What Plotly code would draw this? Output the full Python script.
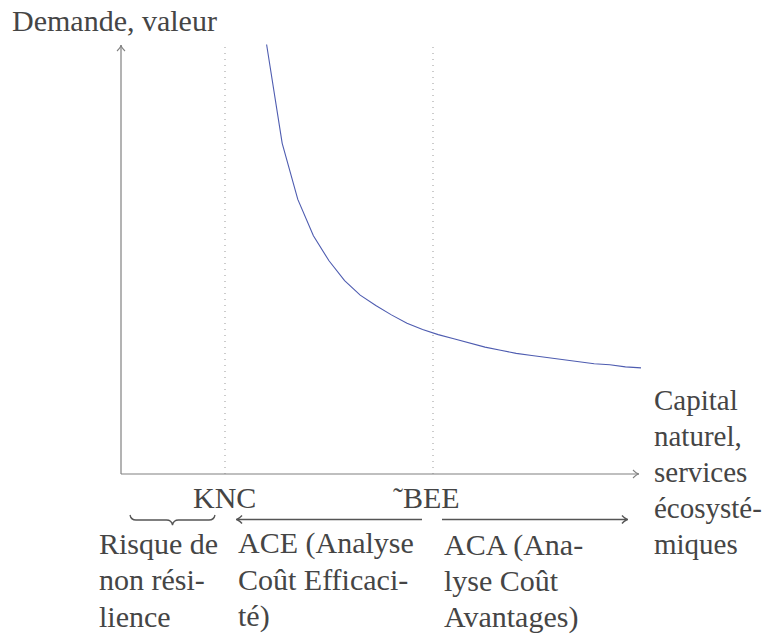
import plotly.graph_objects as go

# ---- data (diagram units: KNC at 1, BEE at 3) ----
curve_x = [1.40, 1.55, 1.70, 1.85, 2.00, 2.15, 2.30, 2.45, 2.60, 2.75, 2.90, 3.05, 3.20,
           3.35, 3.50, 3.65, 3.80, 3.95, 4.10, 4.25, 4.40, 4.55, 4.70, 4.85, 5.00]
curve_y = [4.13, 3.18, 2.64, 2.29, 2.05, 1.86, 1.72, 1.62, 1.53, 1.45, 1.39, 1.34, 1.30,
           1.26, 1.22, 1.19, 1.16, 1.14, 1.12, 1.10, 1.08, 1.06, 1.05, 1.03, 1.02]
markers_x = [1.0, 3.0]          # KNC, BEE
marker_labels = ["KNC", "˜BEE"]
y_label = "Demande, valeur"
x_label_lines = ["Capital", "naturel,", "services", "écosysté-", "miques"]
risque_lines = ["Risque de", "non rési-", "lience"]
ace_lines = ["ACE (Analyse", "Coût Efficaci-", "té)"]
aca_lines = ["ACA (Ana-", "lyse Coût", "Avantages)"]

W, H = 771, 641
OX, OY, U = 121, 474, 104.0     # origin (pixels) and pixels per unit


def X(px):
    return (px - OX) / U


def Y(py):
    return (OY - py) / U


FONT = dict(family="Liberation Serif, serif", size=30, color="#454545")
FONT_R = dict(FONT, size=29)
AXC = "#808080"

fig = go.Figure()
fig.add_trace(go.Scatter(x=curve_x, y=curve_y, mode="lines",
                         line=dict(color="#4e5cb0", width=1.1),
                         hoverinfo="skip", showlegend=False))

shapes = []
for mx in markers_x:
    shapes.append(dict(type="line", xref="x", yref="y", x0=mx, x1=mx, y0=0, y1=Y(46),
                       line=dict(color="#999999", width=1, dash="1px,5px")))
shapes.append(dict(type="line", xref="x", yref="y", x0=0, x1=X(639), y0=0, y1=0,
                   line=dict(color=AXC, width=1.2)))
shapes.append(dict(type="line", xref="x", yref="y", x0=0, x1=0, y0=0, y1=Y(45),
                   line=dict(color=AXC, width=1.2)))


def chevron(tx, ty, dx, dy, color, width):
    L, Wd = 6, 4
    bx, by = tx - dx * L, ty - dy * L
    nx, ny = -dy, dx
    p1 = (bx + nx * Wd, by + ny * Wd)
    p2 = (bx - nx * Wd, by - ny * Wd)
    path = "M {},{} Q {},{} {},{} Q {},{} {},{}".format(
        X(p1[0]), Y(p1[1]), X(tx - dx * 2), Y(ty - dy * 2), X(tx), Y(ty),
        X(tx - dx * 2), Y(ty - dy * 2), X(p2[0]), Y(p2[1]))
    return dict(type="path", xref="x", yref="y", path=path,
                line=dict(color=color, width=width))


shapes.append(chevron(639, OY, 1, 0, AXC, 1.1))
shapes.append(chevron(OX, 45, 0, -1, AXC, 1.1))

AC = "#555555"
ay = 519.5
shapes.append(dict(type="line", xref="x", yref="y", x0=X(237), x1=X(422), y0=Y(ay), y1=Y(ay),
                   line=dict(color=AC, width=1.6)))
shapes.append(chevron(236, ay, -1, 0, AC, 1.5))
shapes.append(dict(type="line", xref="x", yref="y", x0=X(442), x1=X(627), y0=Y(ay), y1=Y(ay),
                   line=dict(color=AC, width=1.6)))
shapes.append(chevron(628, ay, 1, 0, AC, 1.5))

bx0, bx1, bt, bm, bb = 130, 215, 515, 520, 525
mid = (bx0 + bx1) / 2
bp = ("M {},{} Q {},{} {},{} L {},{} Q {},{} {},{} Q {},{} {},{} L {},{} Q {},{} {},{}").format(
    X(bx0), Y(bt), X(bx0 + 1), Y(bm), X(bx0 + 6), Y(bm),
    X(mid - 6), Y(bm), X(mid - 1), Y(bm), X(mid), Y(bb),
    X(mid + 1), Y(bm), X(mid + 6), Y(bm),
    X(bx1 - 6), Y(bm), X(bx1 - 1), Y(bm), X(bx1), Y(bt))
shapes.append(dict(type="path", xref="x", yref="y", path=bp,
                   line=dict(color=AC, width=1.3)))

ann = []


def txt(text, px, baseline, anchor="left", font=FONT):
    ann.append(dict(text=text, x=X(px), y=Y(baseline - 10), xref="x", yref="y",
                    xanchor=anchor, yanchor="middle", showarrow=False, font=font))


txt(y_label, 10, 30)
txt(marker_labels[0], 224, 507, "center")
txt(marker_labels[1], 426, 507, "center")
for i, s in enumerate(x_label_lines):
    txt(s, 652, 410 + 36 * i, font=FONT_R)
for i, s in enumerate(risque_lines):
    txt(s, 97, 553 + 36.5 * i)
for i, s in enumerate(ace_lines):
    txt(s, 236, 553 + 36.5 * i)
for i, s in enumerate(aca_lines):
    txt(s, 442, 554.5 + 36 * i)

fig.update_layout(
    width=W, height=H,
    margin=dict(l=0, r=0, t=0, b=0),
    paper_bgcolor="white", plot_bgcolor="white",
    xaxis=dict(range=[X(0), X(W)], visible=False, fixedrange=True),
    yaxis=dict(range=[Y(H), Y(0)], visible=False, fixedrange=True),
    shapes=shapes, annotations=ann, showlegend=False,
    hovermode=False,
)
fig.write_html("out.html", config={"displayModeBar": False, "staticPlot": True},
               post_script="document.body.style.margin='0';document.body.style.overflow='hidden';")
